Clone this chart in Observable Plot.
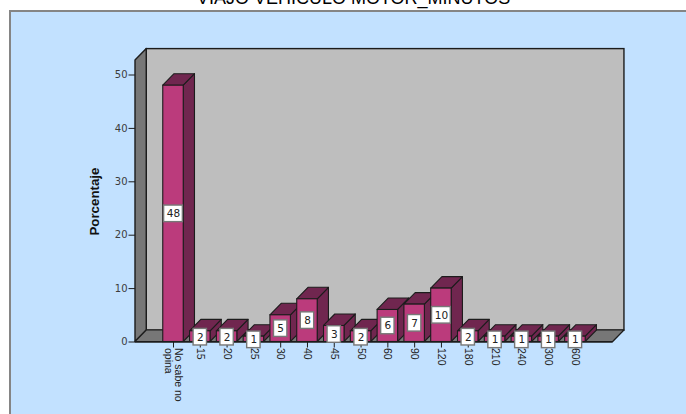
<!DOCTYPE html>
<html>
<head>
<meta charset="utf-8">
<script src="https://cdn.jsdelivr.net/npm/d3@7"></script>
<script src="https://cdn.jsdelivr.net/npm/@observablehq/plot@0.6"></script>
<style>
  html, body { margin: 0; padding: 0; background: #fff; }
  #chart { position: relative; width: 686px; height: 414px; overflow: hidden; }
  #panel { position: absolute; left: 9px; top: 10px; width: 700px; height: 440px;
           background: #c2e1ff; border: 2px solid #858585; box-sizing: border-box; }
  #chart svg { position: absolute; left: 0; top: 0; background: transparent; overflow: hidden; }
</style>
</head>
<body>
<div id="chart"><div id="panel"></div></div>
<script>
// Minutes of the trip by motor vehicle, share of respondents per answer
const categories = ["No sabe no\nopina", "15", "20", "25", "30", "40", "45", "50", "60", "90", "120", "180", "210", "240", "300", "600"];
const percentages = [48, 2, 2, 1, 5, 8, 3, 2, 6, 7, 10, 2, 1, 1, 1, 1];
const yTicks = [0, 10, 20, 30, 40, 50];

const title = "VIAJO VEHICULO MOTOR_MINUTOS";
const yLabel = "Porcentaje";

// Oblique projection of the box, in scale units
const halfBar = 0.382;
const depthX = 0.42;
const depthY = 2.15;
const wallTop = 52.7;
const xMin = -1.418, xMax = 16.41;

const bars = categories.map((c, i) => ({i, c, v: percentages[i]}));

const ink = "#1c1c1c";
const pink = "#bb3b7c";
const plum = "#70264f";
const wallGrey = "#777777";
const tickFont = "'DejaVu Sans', sans-serif";

// Two rows per face: one for the front edge, one for the back edge
const sideFaces = bars.flatMap(b => [
  {i: b.i, x: b.i + halfBar, y1: 0, y2: b.v},
  {i: b.i, x: b.i + halfBar + depthX, y1: depthY, y2: b.v + depthY}
]);
const topFaces = bars.flatMap(b => [
  {i: b.i, y: b.v, x1: b.i - halfBar, x2: b.i + halfBar},
  {i: b.i, y: b.v + depthY, x1: b.i - halfBar + depthX, x2: b.i + halfBar + depthX}
]);

const leftWall = [
  {x: xMin, y1: 0, y2: wallTop},
  {x: xMin + depthX, y1: depthY, y2: wallTop + depthY}
];
const floor = [
  {y: 0, x1: xMin, x2: xMax},
  {y: depthY, x1: xMin + depthX, x2: xMax + depthX}
];

// Value tags sit at the middle of each front face, the shortest a touch lower
const tag = b => b.v / 2 - (b.v <= 3 ? 0.1 : 0);
const tagHalf = b => (b.v >= 10 ? 0.35 : 0.25);

const plot = Plot.plot({
  width: 686,
  height: 414,
  marginLeft: 135,
  marginRight: 73.3,
  marginTop: 74.5,
  marginBottom: 72.5,
  style: {fontFamily: "'Liberation Sans', Arial, sans-serif", background: "transparent", overflow: "hidden"},
  x: {domain: [xMin, xMax]},
  y: {domain: [0, 50]},
  marks: [
    // Box: back wall, left wall, floor
    Plot.rect([{}], {x1: xMin + depthX, x2: xMax + depthX, y1: depthY, y2: wallTop + depthY,
      fill: "#bebebe", stroke: ink, strokeWidth: 1.4}),
    Plot.area(leftWall, {x1: "x", y1: "y1", y2: "y2", fill: wallGrey, stroke: ink, strokeWidth: 1.4}),
    Plot.area(floor, {x1: "x1", x2: "x2", y1: "y", fill: wallGrey, stroke: ink, strokeWidth: 1.2}),

    // Bars, painted sides first and fronts last so nearer faces cover farther ones
    Plot.area(sideFaces, {x1: "x", y1: "y1", y2: "y2", z: "i", fill: plum, stroke: ink, strokeWidth: 1.1}),
    Plot.area(topFaces, {x1: "x1", x2: "x2", y1: "y", z: "i", fill: plum, stroke: ink, strokeWidth: 1.1}),
    Plot.rect(bars, {x1: b => b.i - halfBar, x2: b => b.i + halfBar, y1: 0, y2: "v",
      fill: pink, stroke: ink, strokeWidth: 1.1}),

    // Axes
    Plot.axisY({ticks: yTicks, tickSize: 6.5, tickPadding: 1.5, fontSize: 10, fontFamily: tickFont, label: null, stroke: ink, color: "#3c3c3c"}),
    Plot.axisX({ticks: categories.map((c, i) => i), tickFormat: i => categories[i], tickSize: 6,
      tickRotate: 90, tickPadding: 0, fontSize: 10.5, label: null, stroke: ink, color: "#222"}),
    Plot.ruleY([0], {stroke: ink, strokeWidth: 1.4}),

    // Value tags
    Plot.rect(bars, {
      x1: b => b.i - tagHalf(b),
      x2: b => b.i + tagHalf(b),
      y1: b => tag(b) - 1.55,
      y2: b => tag(b) + 1.55,
      fill: "#fff", stroke: "#777", strokeWidth: 1.4
    }),
    Plot.text(bars, {x: "i", y: tag, text: b => String(b.v), fontSize: 10.5, fontFamily: tickFont, fill: "#222"}),

    // Axis title and chart title; the title runs up against the top edge of the page
    Plot.text([yLabel], {x: [-2.95], y: [26.3], text: d => d, rotate: -90, fontSize: 13.3, fontWeight: "bold", fill: "#111"}),
    Plot.text([title], {x: [6.72], y: [63.3], text: d => d, lineAnchor: "bottom", fontSize: 18, fill: "#000"})
  ]
});

document.getElementById("chart").appendChild(plot);
</script>
</body>
</html>
